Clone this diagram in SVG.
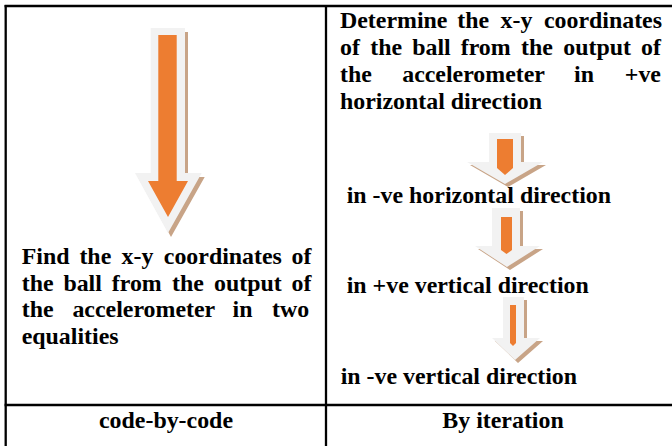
<svg xmlns="http://www.w3.org/2000/svg" width="672" height="446" viewBox="0 0 672 446">
  <style>
    .t { font-weight: bold; font-size: 23.9px; fill: #000; }
    .mid { text-anchor: middle; }
    .rule { stroke: #000; stroke-width: 2.3; fill: none; }
    .halo { fill: #f2f2f2; }
    .shade { fill: #c8a487; }
    .core { fill: #ed7d31; }
  </style>
  <rect width="672" height="446" fill="#fff"/>

  <!-- table rules -->
  <g id="grid">
    <line class="rule" x1="4.6" y1="6" x2="672" y2="6"/>
    <line class="rule" x1="5.7" y1="5" x2="5.7" y2="446"/>
    <line class="rule" x1="326" y1="5" x2="326" y2="446"/>
    <line class="rule" x1="4.6" y1="405" x2="672" y2="405"/>
  </g>

  <!-- block arrows -->
  <g id="connectors">
    <g id="arrow-main">
      <polygon class="shade" transform="translate(3,4)" points="150.7,28 185,28 185,173 201.7,173 168,233 135,173 150.7,173"/>
      <polygon class="halo" points="150.7,28 185,28 185,173 201.7,173 168,233 135,173 150.7,173"/>
      <polygon class="core" points="158.3,35 176.7,35 176.7,181 188,181 168,217 148,181 158.3,181"/>
    </g>
    <g id="arrow-1">
      <polygon class="shade" transform="translate(3,3)" points="489,133 521,133 521,162 543,162 505,184 467,162 489,162"/>
      <polygon class="halo" points="489,133 521,133 521,162 543,162 505,184 467,162 489,162"/>
      <polygon class="core" points="497,139 513,139 513,168 505,175 497,168"/>
    </g>
    <g id="arrow-2">
      <polygon class="shade" transform="translate(3,3)" points="492,208 520,208 520,246 540,246 507,267 475,246 492,246"/>
      <polygon class="halo" points="492,208 520,208 520,246 540,246 507,267 475,246 492,246"/>
      <polygon class="core" points="501,217 512,217 512,250 506.5,254 501,250"/>
    </g>
    <g id="arrow-3">
      <polygon class="shade" transform="translate(3,3)" points="503,297 524,297 524,338 540,338 515,360 492,338 503,338"/>
      <polygon class="halo" points="503,297 524,297 524,338 540,338 515,360 492,338 503,338"/>
      <polygon class="core" points="510,305 516,305 516,343 513,346 510,343"/>
    </g>
  </g>

  <g font-family="'Liberation Serif', 'Times New Roman', Tinos, 'Nimbus Roman', serif">
    <!-- left column: single-step method -->
    <g id="node-equalities">
      <text class="t" y="264"><tspan x="21.7">Find</tspan><tspan x="79.4">the</tspan><tspan x="121.6">x-y</tspan><tspan x="163.8">coordinates</tspan><tspan x="291.6">of</tspan></text>
      <text class="t" y="290.5"><tspan x="21.7">the</tspan><tspan x="63.4">ball</tspan><tspan x="111.8">from</tspan><tspan x="172">the</tspan><tspan x="214">output</tspan><tspan x="291.6">of</tspan></text>
      <text class="t" y="317"><tspan x="21.7">the</tspan><tspan x="72.4">accelerometer</tspan><tspan x="232.6">in</tspan><tspan x="272">two</tspan></text>
      <text class="t" x="21.7" y="343.5">equalities</text>
    </g>

    <!-- right column: iterative steps -->
    <g id="node-plus-horizontal">
      <text class="t" y="27.5"><tspan x="340">Determine</tspan><tspan x="457.3">the</tspan><tspan x="500.6">x-y</tspan><tspan x="543.9">coordinates</tspan></text>
      <text class="t" y="54.5"><tspan x="340">of</tspan><tspan x="370.2">the</tspan><tspan x="412.2">ball</tspan><tspan x="460.7">from</tspan><tspan x="521">the</tspan><tspan x="563.2">output</tspan><tspan x="641">of</tspan></text>
      <text class="t" y="81.5"><tspan x="340">the</tspan><tspan x="402.2">accelerometer</tspan><tspan x="574">in</tspan><tspan x="624.8">+ve</tspan></text>
      <text class="t" x="340" y="108.5">horizontal direction</text>
    </g>
    <g id="node-minus-horizontal">
      <text class="t" x="346.7" y="203">in -ve horizontal direction</text>
    </g>
    <g id="node-plus-vertical">
      <text class="t" x="346.7" y="293">in +ve vertical direction</text>
    </g>
    <g id="node-minus-vertical">
      <text class="t" x="340.7" y="384">in -ve vertical direction</text>
    </g>

    <!-- bottom row captions -->
    <g id="caption-left">
      <text class="t mid" x="166" y="428">code-by-code</text>
    </g>
    <g id="caption-right">
      <text class="t mid" x="503" y="428">By iteration</text>
    </g>
  </g>
</svg>
